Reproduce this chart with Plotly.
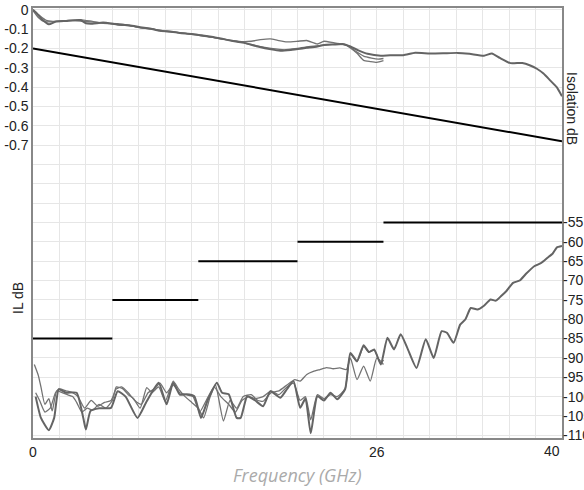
import plotly.graph_objects as go

# ---------------- data ----------------
# Insertion loss (left axis, dB)
il_a_x = [0, 0.3, 0.7, 1.2, 1.7, 2.5, 3.6, 4.0, 4.5, 5.3, 6.4, 7.3, 8.1, 9.0, 9.6, 10.5, 11.1, 12.0, 12.7,
          13.5, 14.2, 15.0, 15.9, 17.0, 18.0, 18.7, 19.5, 20.7, 21.5, 22.0, 22.7, 23.5, 24.0, 24.6, 25.3,
          26.3, 27.0, 28.0, 28.9, 30.0, 31.0, 32.1, 33.0, 34.1, 34.7, 35.3, 36.1, 37.0, 37.6, 38.1, 38.6,
          39.1, 39.6, 40.0]
il_a_y = [0, -0.02, -0.05, -0.075, -0.062, -0.058, -0.053, -0.07, -0.072, -0.066, -0.076, -0.08, -0.09,
          -0.1, -0.108, -0.114, -0.12, -0.125, -0.132, -0.14, -0.149, -0.16, -0.17, -0.19, -0.205, -0.212,
          -0.208, -0.197, -0.19, -0.182, -0.18, -0.178, -0.19, -0.21, -0.228, -0.238, -0.235, -0.235,
          -0.222, -0.226, -0.225, -0.223, -0.228, -0.238, -0.226, -0.249, -0.276, -0.275, -0.288, -0.305,
          -0.33, -0.365, -0.4, -0.447]
il_b_x = [0, 0.4, 0.8, 1.2, 1.7, 2.5, 3.6, 4.3, 5.3, 6.4, 7.3, 8.1, 9.0, 9.6, 10.5, 11.1, 12.0, 12.7, 13.5,
          14.2, 15.0, 15.9, 16.5, 17.2, 17.95, 18.5, 19.2, 20.0, 20.7, 21.5, 22.0, 22.8, 23.5, 24.0, 24.5,
          25.0, 25.5, 26.0, 26.5]
il_b_y = [-0.005, -0.04, -0.06, -0.063, -0.06, -0.056, -0.052, -0.058, -0.07, -0.072, -0.082, -0.092,
          -0.098, -0.11, -0.115, -0.118, -0.126, -0.135, -0.142, -0.15, -0.158, -0.165, -0.163, -0.155,
          -0.151, -0.158, -0.166, -0.163, -0.159, -0.177, -0.163, -0.172, -0.178, -0.197, -0.225, -0.262,
          -0.268, -0.272, -0.263]
il_c_x = [0, 0.5, 1.0, 1.5, 2.2, 3.0, 3.8, 4.6, 5.5, 6.4, 7.5, 8.3, 9.2, 10.0, 11.0, 12.0, 12.8, 13.6,
          14.4, 15.2, 16.0, 17.0, 18.0, 19.0, 20.0, 21.0, 22.0, 23.0, 23.8, 24.4, 25.0, 25.6, 26.1, 26.5]
il_c_y = [0, -0.03, -0.055, -0.06, -0.058, -0.055, -0.06, -0.064, -0.068, -0.078, -0.085, -0.095, -0.102,
          -0.11, -0.118, -0.127, -0.133, -0.143, -0.152, -0.162, -0.172, -0.188, -0.2, -0.207, -0.2,
          -0.19, -0.183, -0.178, -0.186, -0.215, -0.24, -0.25, -0.255, -0.252]

# IL spec line
il_spec_x = [0, 40]
il_spec_y = [-0.2, -0.68]

# Isolation (right axis, dB)
iso_1_x = [0.2, 0.6, 1.2, 1.6, 1.95, 2.5, 3.3, 3.8, 4.0, 4.35, 5.0, 5.9, 6.4, 7.0, 7.9, 8.6, 9.5, 10.1,
           10.6, 11.1, 11.6, 12.2, 12.7, 13.2, 13.9, 14.3, 14.8, 15.4, 15.7, 16.2, 16.8, 17.4, 17.95, 18.7,
           19.2, 19.7, 20.2, 20.6, 21.0, 21.5, 22.0, 22.5, 23.0, 23.6, 24.0, 24.5, 25.0, 25.4, 25.8, 26.3,
           26.8, 27.3, 27.8, 28.3, 29.0, 29.7, 30.3, 30.9, 31.3, 31.8, 32.3, 32.7, 33.1, 33.6, 34.1, 34.6,
           35.0, 35.4, 35.8, 36.3, 36.8, 37.3, 37.9, 38.4, 38.9, 39.3, 39.6, 40.0]
iso_1_y = [-100, -105.5, -108.7, -105.5, -98.1, -99, -99, -105.5, -108.5, -103.7, -103, -102.9, -98.6,
           -100, -105.5, -101.2, -96.4, -102, -96.4, -99.5, -99.4, -99.9, -105.5, -101, -96.4, -99, -99.4,
           -105.5, -105.5, -99.9, -101, -102.5, -98.6, -100.3, -98.1, -96, -102.9, -100.5, -109.5, -99.9,
           -101, -99, -100.7, -98.1, -88.7, -90.8, -86.7, -88.5, -87.8, -91.7, -84.8, -87.8, -83.9, -87.4,
           -92.6, -85.2, -90, -83.1, -83.5, -86.1, -81.4, -80, -77.1, -77.5, -76.5, -74.9, -75.2, -74,
           -72.7, -70.6, -70, -68.2, -66.3, -65.5, -64.1, -63, -61.5, -61.1]
iso_2_x = [0.1, 0.4, 0.6, 0.9, 1.2, 1.45, 1.8, 2.2, 2.6, 3.0, 3.3, 3.7, 4.1, 4.5, 5.0, 5.5, 6.0, 6.3, 6.8,
           7.2, 7.6, 8.1, 8.6, 9.0, 9.5, 10.0, 10.6, 11.0, 11.5, 12.0, 12.5, 12.9, 13.4, 13.8, 14.4, 14.9,
           15.4, 15.9, 16.5, 17.0, 17.4, 18.0, 18.6, 19.2, 19.8, 20.2, 20.7, 21.2, 21.7, 22.2, 22.7, 23.2,
           23.7, 24.0, 24.5, 25.0, 25.5, 26.0, 26.5]
iso_2_y = [-91.7, -94.5, -97.5, -102, -100.5, -103.7, -98.5, -99, -99.5, -100, -101.5, -104, -103, -103.5,
           -102, -103, -101, -97.5, -98, -99.5, -100.5, -103, -97.7, -99, -97.5, -101.2, -96, -98, -100,
           -101.5, -103, -105.5, -100, -97, -106.3, -101, -103, -100, -99.5, -101, -101.2, -99, -98.5, -97,
           -95.6, -96, -94.3, -93.5, -93, -92.5, -92.8, -92.6, -93, -90, -95.6, -92.1, -96, -90, -91.7]
iso_3_x = [0.2, 0.5, 0.9, 1.3, 1.7, 2.0, 2.5, 3.0, 3.4, 3.9, 4.4, 4.9, 5.4, 5.9, 6.3, 6.7, 7.2, 7.7, 8.2,
           8.7, 9.2, 9.6, 10.1, 10.6, 11.1, 11.6, 12.1, 12.6, 13.1, 13.7, 14.2, 14.8, 15.3, 15.8, 16.3, 16.8,
           17.4, 18.0, 18.6, 19.2, 19.7, 20.2, 20.6, 21.0, 21.5, 22.0, 22.5, 23.0, 23.6, 24.0, 24.5, 25.0,
           25.4, 25.8, 26.3, 26.5]
iso_3_y = [-99, -101, -104, -103, -99, -98, -98.5, -99, -100, -103, -101, -102.5, -101.5, -101, -98, -97.5,
           -99, -101, -102, -99, -98, -96.5, -99, -97, -99, -99.5, -100, -104, -101, -97.5, -100, -102,
           -104, -101, -100, -100.5, -100, -98.5, -99.5, -97.5, -96.5, -101, -100, -106, -99.5, -100.5,
           -99.5, -100, -98, -89, -91, -87, -88.5, -88, -91.5, -90.5]

# Isolation spec steps (GHz start, GHz end, dB)
spec_start = [0, 6, 12.5, 20, 26.5]
spec_end = [6, 12.5, 20, 26.5, 40]
spec_db = [-85, -75, -65, -60, -55]

# axis ticks
il_ticks = [0, -0.1, -0.2, -0.3, -0.4, -0.5, -0.6, -0.7]
iso_ticks = [-55, -60, -65, -70, -75, -80, -85, -90, -95, -100, -105, -110]
x_tick_labels = [0, 26]

# ---------------- figure ----------------
fig = go.Figure()
gray_dark = "rgb(100,100,100)"
gray_thin = "rgb(115,115,115)"

for xs, ys, col, w in [(il_b_x, il_b_y, gray_thin, 1.3), (il_c_x, il_c_y, gray_thin, 1.3),
                       (il_a_x, il_a_y, gray_dark, 2)]:
    fig.add_trace(go.Scatter(x=xs, y=ys, mode="lines",
                             line=dict(color=col, width=w, shape="spline", smoothing=0.5),
                             yaxis="y", showlegend=False))
fig.add_trace(go.Scatter(x=il_spec_x, y=il_spec_y, mode="lines", line=dict(color="black", width=2),
                         yaxis="y", showlegend=False))

for xs, ys, col, w in [(iso_2_x, iso_2_y, gray_thin, 1.3), (iso_3_x, iso_3_y, gray_thin, 1.3),
                       (iso_1_x, iso_1_y, gray_dark, 2)]:
    fig.add_trace(go.Scatter(x=xs, y=ys, mode="lines",
                             line=dict(color=col, width=w, shape="spline", smoothing=0.5),
                             yaxis="y2", showlegend=False))

sx, sy = [], []
for a, b, v in zip(spec_start, spec_end, spec_db):
    sx += [a, b, None]
    sy += [v, v, None]
fig.add_trace(go.Scatter(x=sx, y=sy, mode="lines", line=dict(color="black", width=2),
                         yaxis="y2", showlegend=False, connectgaps=False))

grid_il = [round(-0.1 * i, 1) for i in range(23)]
grid_il_text = [("0" if v == 0 else f"{v:.1f}") if v in il_ticks else "" for v in grid_il]

x_grid = list(range(0, 41, 2))
x_grid_text = [str(v) if v in x_tick_labels else "" for v in x_grid]

tick_font = dict(family="Liberation Sans, Arial, sans-serif", size=14, color="#222")

plot_top, plot_bottom = 8, 438
def ypaper(py):
    return (plot_bottom - py) / (plot_bottom - plot_top)

fig.update_layout(
    width=584, height=490,
    margin=dict(l=33, r=22, t=8, b=52, autoexpand=False),
    paper_bgcolor="white", plot_bgcolor="white",
    xaxis=dict(range=[0, 40], tickvals=x_grid, ticktext=x_grid_text, showgrid=True, gridcolor="#e6e6e6",
               gridwidth=1, zeroline=False, showline=True, linecolor="#888", linewidth=1.5, mirror=True,
               ticks="", tickfont=tick_font, automargin=False),
    yaxis=dict(range=[-2.214, 0.009], tickvals=grid_il, ticktext=grid_il_text, showgrid=True,
               gridcolor="#e6e6e6", gridwidth=1, zeroline=False, showline=True, linecolor="#888",
               linewidth=1.5, mirror=True, ticks="", tickfont=tick_font, automargin=False),
    yaxis2=dict(range=[-110.7, 0.44], overlaying="y", side="right", tickvals=iso_ticks,
                ticktext=[str(v) for v in iso_ticks], showgrid=False, zeroline=False, ticks="",
                tickfont=tick_font, showline=False, automargin=False),
    annotations=[
        dict(text="40", x=40, y=0, xref="x", yref="paper", xanchor="right", yanchor="top", yshift=-3,
             showarrow=False, font=tick_font),
        dict(text="IL dB", x=0, xref="paper", xshift=-15, xanchor="center", y=ypaper(298), yref="paper",
             yanchor="middle", showarrow=False, textangle=-90,
             font=dict(family="Liberation Sans, Arial, sans-serif", size=14, color="#222")),
        dict(text="Isolation dB", x=1, xref="paper", xshift=10, xanchor="center", y=ypaper(108),
             yref="paper", yanchor="middle", showarrow=False, textangle=90,
             font=dict(family="Liberation Sans, Arial, sans-serif", size=14, color="#222")),
        dict(text="<i>Frequency (GHz)</i>", x=0.5, xref="paper", y=0, yref="paper", yanchor="middle",
             yshift=-37, showarrow=False,
             font=dict(family="Open Sans, sans-serif", size=18, color="#aaa")),
    ],
)

fig.write_html("out.html", config={"displayModeBar": False},
               post_script="document.body.style.margin='0px';document.body.style.overflow='hidden';")
